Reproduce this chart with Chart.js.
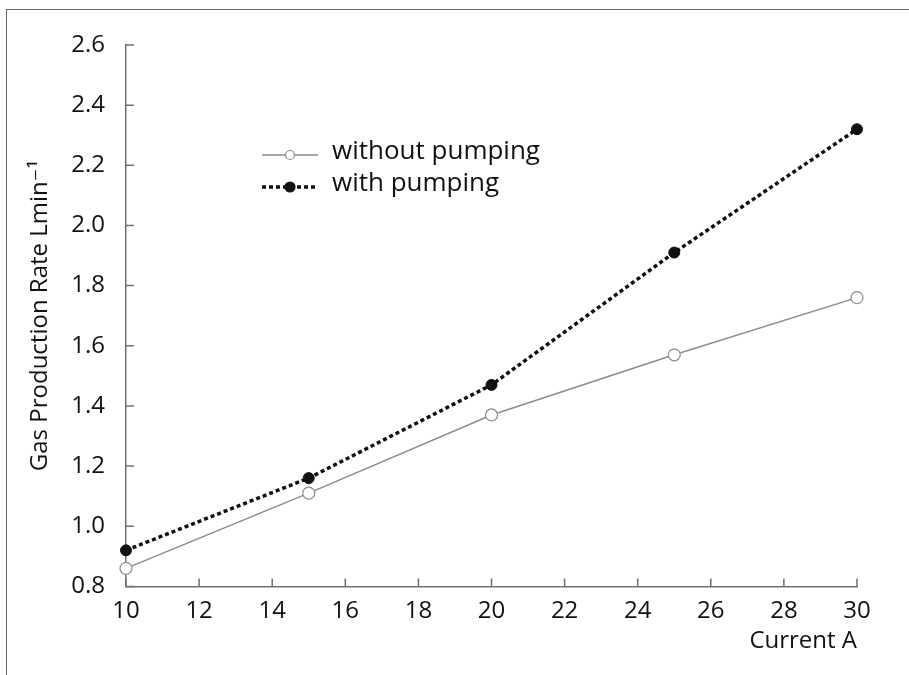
<!DOCTYPE html>
<html>
<head>
<meta charset="utf-8">
<script src="https://cdn.jsdelivr.net/npm/chart.js@4.4.1/dist/chart.umd.min.js"></script>
<style>
  html, body { margin: 0; padding: 0; background: #fff; }
  #wrap { position: relative; width: 909px; height: 675px; overflow: hidden; }
  #frame { position: absolute; left: 6px; top: 9px; width: 920px; height: 700px;
           border-top: 1.5px solid #6a6a6a; border-left: 1.5px solid #6a6a6a; }
  canvas { position: absolute; left: 0; top: 0; }
</style>
</head>
<body>
<div id="wrap">
  <div id="frame"></div>
  <canvas id="chart" width="909" height="675"></canvas>
</div>
<script>
// data
const currents = [10, 15, 20, 25, 30];
const withoutPumping = [0.86, 1.11, 1.37, 1.57, 1.76];
const withPumping = [0.92, 1.16, 1.47, 1.91, 2.32];
const seriesNames = ['without pumping', 'with pumping'];
const xTicks = [10, 12, 14, 16, 18, 20, 22, 24, 26, 28, 30];
const yTicks = [0.8, 1.0, 1.2, 1.4, 1.6, 1.8, 2.0, 2.2, 2.4, 2.6];

const FONT = '"Open Sans", "DejaVu Sans", sans-serif';
const axisColor = '#707070';
const textColor = '#111111';

function toPoints(xs, ys) {
  return xs.map(function (x, i) { return { x: x, y: ys[i] }; });
}

// inward tick marks on both axes
const innerTicks = {
  id: 'innerTicks',
  afterDatasetsDraw(chart) {
    const ctx = chart.ctx;
    const x = chart.scales.x, y = chart.scales.y;
    const area = chart.chartArea;
    ctx.save();
    ctx.strokeStyle = axisColor;
    ctx.lineWidth = 1.5;
    ctx.beginPath();
    xTicks.forEach(function (v) {
      const px = x.getPixelForValue(v);
      ctx.moveTo(px, area.bottom);
      ctx.lineTo(px, area.bottom - 8);
    });
    yTicks.forEach(function (v) {
      const py = y.getPixelForValue(v);
      ctx.moveTo(area.left, py);
      ctx.lineTo(area.left + 8, py);
    });
    ctx.stroke();
    ctx.restore();
  }
};

// legend drawn inside the plot
const innerLegend = {
  id: 'innerLegend',
  afterDraw(chart) {
    const ctx = chart.ctx;
    const x0 = 262, x1 = 318, tx = 332;
    const rows = [155, 187];
    ctx.save();
    chart.data.datasets.forEach(function (ds, i) {
      const yy = rows[i];
      ctx.beginPath();
      ctx.strokeStyle = ds.borderColor;
      ctx.lineWidth = ds.borderWidth;
      ctx.setLineDash(ds.borderDash || []);
      ctx.moveTo(x0, yy);
      ctx.lineTo(x1, yy);
      ctx.stroke();
      ctx.setLineDash([]);
      ctx.beginPath();
      ctx.arc((x0 + x1) / 2, yy, i === 0 ? 4.5 : 5, 0, Math.PI * 2);
      ctx.fillStyle = ds.pointBackgroundColor;
      ctx.fill();
      ctx.lineWidth = 1.2;
      ctx.strokeStyle = ds.pointBorderColor;
      ctx.stroke();
      ctx.fillStyle = textColor;
      ctx.font = '26px ' + FONT;
      ctx.textBaseline = 'middle';
      ctx.fillText(ds.label, tx, yy - 3);
    });
    ctx.restore();
  }
};

const config = {
  type: 'line',
  data: {
    datasets: [
      {
        label: seriesNames[0],
        data: toPoints(currents, withoutPumping),
        borderColor: '#8c8c8c',
        borderWidth: 1.5,
        pointRadius: 6,
        pointBackgroundColor: '#ffffff',
        pointBorderColor: '#8c8c8c',
        pointBorderWidth: 1.2,
        clip: false
      },
      {
        label: seriesNames[1],
        data: toPoints(currents, withPumping),
        borderColor: '#111111',
        borderWidth: 3.5,
        borderDash: [4, 3],
        pointRadius: 5.5,
        pointBackgroundColor: '#111111',
        pointBorderColor: '#111111',
        pointBorderWidth: 1,
        clip: false
      }
    ]
  },
  options: {
    responsive: false,
    animation: false,
    layout: { padding: { left: 26, right: 52, top: 45, bottom: 19 } },
    plugins: { legend: { display: false }, tooltip: { enabled: false } },
    scales: {
      x: {
        type: 'linear',
        min: 10, max: 30,
        afterBuildTicks: function (s) { s.ticks = xTicks.map(function (v) { return { value: v }; }); },
        grid: { display: false },
        border: { display: true, color: axisColor, width: 1.5 },
        ticks: { color: textColor, font: { family: FONT, size: 24 }, padding: 2, maxRotation: 0 },
        title: { display: true, text: 'Current A', align: 'end', color: textColor,
                 font: { family: FONT, size: 24 }, padding: { top: 0, bottom: 0 } }
      },
      y: {
        min: 0.8, max: 2.6,
        afterBuildTicks: function (s) { s.ticks = yTicks.map(function (v) { return { value: v }; }); },
        afterFit: function (s) { s.width = 100; },
        grid: { display: false },
        border: { display: true, color: axisColor, width: 1.5 },
        ticks: { color: textColor, font: { family: FONT, size: 24 }, padding: 13,
                 callback: function (v) { return Number(v).toFixed(1); } },
        title: { display: true, text: 'Gas Production Rate Lmin\u207B\u00B9', color: textColor,
                 font: { family: FONT, size: 24 }, padding: { top: 0, bottom: 0 } }
      }
    }
  },
  plugins: [innerTicks, innerLegend]
};

window.addEventListener('load', function () {
  new Chart(document.getElementById('chart'), config);
});
</script>
</body>
</html>
